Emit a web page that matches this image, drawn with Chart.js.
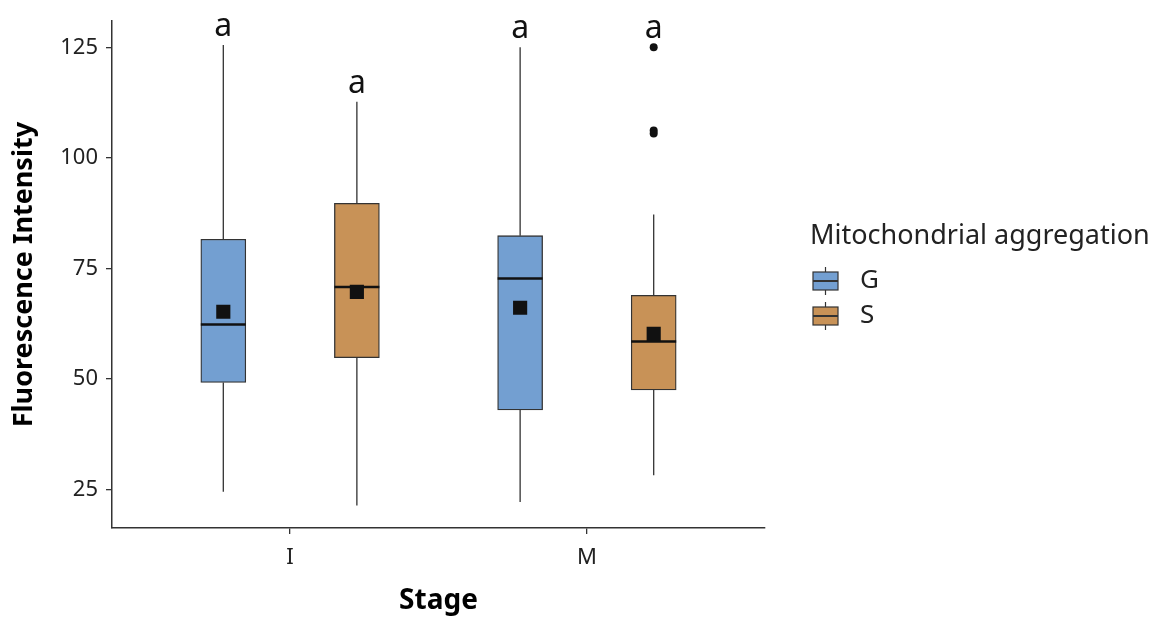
<!DOCTYPE html>
<html>
<head>
<meta charset="utf-8">
<script src="https://cdn.jsdelivr.net/npm/chart.js@4.4.1/dist/chart.umd.min.js"></script>
<style>
  html, body { margin: 0; padding: 0; background: #fff; }
  #wrap { width: 1166px; height: 628px; }
</style>
</head>
<body>
<div id="wrap"><canvas id="boxChart"></canvas></div>
<script>
// 阶段与分组
const STAGES = ['I', 'M'];
const GROUPS = ['G', 'S'];
const Y_TICKS = [25, 50, 75, 100, 125];

// G 组箱线统计量（按阶段）
const G_MIN = [24.5, 22.2];
const G_Q1 = [49.2, 43.0];
const G_MEDIAN = [62.3, 72.7];
const G_Q3 = [81.6, 82.4];
const G_MAX = [125.5, 125.0];
const G_MEAN = [65.2, 66.1];
const G_OUTLIERS = [[], []];

// S 组箱线统计量（按阶段）
const S_MIN = [21.4, 28.2];
const S_Q1 = [54.8, 47.5];
const S_MEDIAN = [70.8, 58.5];
const S_Q3 = [89.7, 68.9];
const S_MAX = [112.7, 87.2];
const S_MEAN = [69.7, 60.2];
const S_OUTLIERS = [[], [125.0, 106.2, 105.5]];

// 显著性字母
const G_LETTERS = ['a', 'a'];
const S_LETTERS = ['a', 'a'];

const COLORS = { G: '#739fd1', S: '#c89257' };
const DODGE = 0.225;
const FONT = '"Noto Sans", "Open Sans", sans-serif';
const INK = '#222';

function groupStats(name, off, min, q1, med, q3, max, mean, outliers, letters) {
    return { name, off, min, q1, med, q3, max, mean, outliers, letters };
}

const groups = [
    groupStats('G', -DODGE, G_MIN, G_Q1, G_MEDIAN, G_Q3, G_MAX, G_MEAN, G_OUTLIERS, G_LETTERS),
    groupStats('S', DODGE, S_MIN, S_Q1, S_MEDIAN, S_Q3, S_MAX, S_MEAN, S_OUTLIERS, S_LETTERS)
];

const datasets = [];
groups.forEach(g => {
    datasets.push({
        type: 'bar',
        label: g.name,
        stats: g,
        data: STAGES.map((s, i) => ({ x: i + 1 + g.off, y: [g.q1[i], g.q3[i]] })),
        backgroundColor: COLORS[g.name],
        borderColor: '#333',
        borderWidth: 1.3,
        borderSkipped: false,
        barThickness: 45,
        grouped: false,
        order: 3
    });
    datasets.push({
        type: 'scatter',
        label: g.name + ' mean',
        data: STAGES.map((s, i) => ({ x: i + 1 + g.off, y: g.mean[i] })),
        pointStyle: 'rect',
        pointRadius: 10,
        backgroundColor: '#111',
        borderWidth: 0,
        order: 1
    });
    const outs = [];
    g.outliers.forEach((list, i) => list.forEach(v => outs.push({ x: i + 1 + g.off, y: v })));
    datasets.push({
        type: 'scatter',
        label: g.name + ' outliers',
        data: outs,
        pointStyle: 'circle',
        pointRadius: 4,
        backgroundColor: '#111',
        borderWidth: 0,
        order: 1
    });
});

// 须线、中位线和显著性字母
const boxExtras = {
    id: 'boxExtras',
    afterDatasetDraw(chart, args) {
        const ds = chart.data.datasets[args.index];
        if (ds.type !== 'bar') return;
        const ctx = chart.ctx;
        const y = chart.scales.y;
        const g = ds.stats;
        args.meta.data.forEach((bar, i) => {
            const half = bar.width / 2;
            ctx.save();
            ctx.strokeStyle = '#333';
            ctx.lineWidth = 1.3;
            ctx.beginPath();
            ctx.moveTo(bar.x, y.getPixelForValue(g.q3[i]));
            ctx.lineTo(bar.x, y.getPixelForValue(g.max[i]));
            ctx.moveTo(bar.x, y.getPixelForValue(g.q1[i]));
            ctx.lineTo(bar.x, y.getPixelForValue(g.min[i]));
            ctx.stroke();
            ctx.strokeStyle = '#111';
            ctx.lineWidth = 2.5;
            ctx.beginPath();
            const my = y.getPixelForValue(g.med[i]);
            ctx.moveTo(bar.x - half, my);
            ctx.lineTo(bar.x + half, my);
            ctx.stroke();
            const top = Math.max(g.max[i], ...g.outliers[i]);
            ctx.fillStyle = '#111';
            ctx.font = '32px ' + FONT;
            ctx.textAlign = 'center';
            ctx.textBaseline = 'alphabetic';
            ctx.fillText(g.letters[i], bar.x, y.getPixelForValue(top) - 9);
            ctx.restore();
        });
    }
};

// 图例
const boxLegend = {
    id: 'boxLegend',
    afterDraw(chart) {
        const ctx = chart.ctx;
        const left = chart.chartArea.right + 45;
        ctx.save();
        ctx.fillStyle = INK;
        ctx.font = '27px ' + FONT;
        ctx.textBaseline = 'middle';
        ctx.textAlign = 'left';
        ctx.fillText('Mitochondrial aggregation', left, 236);
        GROUPS.forEach((name, k) => {
            const cy = 281 + k * 35;
            const kx = left + 3;
            ctx.strokeStyle = '#333';
            ctx.lineWidth = 1.2;
            ctx.beginPath();
            ctx.moveTo(kx + 12.5, cy - 14);
            ctx.lineTo(kx + 12.5, cy + 14);
            ctx.stroke();
            ctx.fillStyle = COLORS[name];
            ctx.fillRect(kx, cy - 9, 25, 18);
            ctx.strokeRect(kx, cy - 9, 25, 18);
            ctx.lineWidth = 2;
            ctx.beginPath();
            ctx.moveTo(kx, cy);
            ctx.lineTo(kx + 25, cy);
            ctx.stroke();
            ctx.fillStyle = INK;
            ctx.font = '26px ' + FONT;
            ctx.fillText(name, left + 50, cy);
        });
        ctx.restore();
    }
};

function axisLook() {
    return {
        grid: { display: true, offset: false, drawOnChartArea: false, drawTicks: true, tickLength: 6, color: '#333', lineWidth: 1.3 },
        border: { display: true, color: '#333', width: 1.5 }
    };
}

new Chart(document.getElementById('boxChart'), {
    type: 'bar',
    data: { datasets },
    options: {
        responsive: true,
        maintainAspectRatio: false,
        animation: false,
        layout: { padding: { top: 17, right: 401, left: 0, bottom: 0 } },
        plugins: { legend: { display: false }, tooltip: { enabled: false } },
        scales: {
            x: {
                ...axisLook(),
                type: 'linear',
                offset: false,
                min: 0.4,
                max: 2.6,
                afterBuildTicks: s => { s.ticks = STAGES.map((n, i) => ({ value: i + 1 })); },
                afterFit: s => { s.height = 100; },
                ticks: {
                    callback: v => STAGES[v - 1],
                    color: INK,
                    font: { family: FONT, size: 22 },
                    padding: 11,
                    maxRotation: 0
                },
                title: {
                    display: true,
                    text: 'Stage',
                    color: '#000',
                    font: { family: FONT, size: 28, weight: 'bold' },
                    padding: { top: 0, bottom: 10 }
                }
            },
            y: {
                ...axisLook(),
                min: 16.3,
                max: 130.9,
                afterBuildTicks: s => { s.ticks = Y_TICKS.map(v => ({ value: v })); },
                afterFit: s => { s.width = 112; },
                ticks: {
                    color: INK,
                    font: { family: FONT, size: 22 },
                    padding: 8
                },
                title: {
                    display: true,
                    text: 'Fluorescence Intensity',
                    color: '#000',
                    font: { family: FONT, size: 27, weight: 'bold' },
                    padding: { top: 8, bottom: 0 }
                }
            }
        }
    },
    plugins: [boxExtras, boxLegend]
});
</script>
</body>
</html>
